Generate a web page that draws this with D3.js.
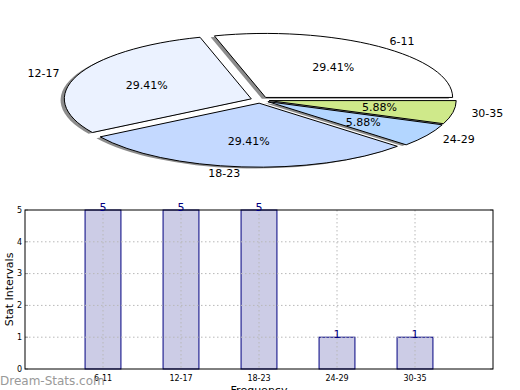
<!DOCTYPE html>
<html>
<head>
<meta charset="utf-8">
<script src="https://cdn.jsdelivr.net/npm/d3@7"></script>
<style>
  body { margin: 0; background: #fff; }
  text { font-family: "DejaVu Sans", sans-serif; }
</style>
</head>
<body>
<svg id="chart" width="520" height="390"></svg>
<script>
"use strict";

//// data
const categories = ["6-11", "12-17", "18-23", "24-29", "30-35"];
const counts = [5, 5, 5, 1, 1];
const sliceColors = ["#ffffff", "#ebf2ff", "#c4d9ff", "#b3d6ff", "#cfe98a"];
const yTicks = [0, 1, 2, 3, 4, 5];

(function () {
    const svg = d3.select("#chart");

    //// pie (squashed ellipse, matplotlib style: ccw from 3 o'clock)
    const cx = 260, cy = 100, rx = 187, ry = 64;
    const explode = 0.05;
    const total = d3.sum(counts);

    const pie = d3.pie().sort(null)
        .startAngle(Math.PI / 2)
        .endAngle(Math.PI / 2 - 2 * Math.PI);
    const arcs = pie(counts);
    const arc = d3.arc().innerRadius(0).outerRadius(1);

    function offset(d, r) {
        const m = (d.startAngle + d.endAngle) / 2;
        return [Math.sin(m) * r, -Math.cos(m) * r];
    }

    const pieG = svg.append("g");

    // shadows first
    pieG.selectAll(".shadow")
        .data(arcs)
        .enter().append("path")
            .attr("class", "shadow")
            .attr("transform", function(d) {
                const o = offset(d, explode);
                return "translate(" + (cx + o[0] * rx - 0.02 * rx) + "," + (cy + o[1] * ry + 0.02 * ry) + ") scale(" + rx + "," + ry + ")";
            })
            .attr("d", arc)
            .attr("fill", "#000")
            .attr("fill-opacity", 0.45);

    pieG.selectAll(".slice")
        .data(arcs)
        .enter().append("path")
            .attr("class", "slice")
            .attr("transform", function(d) {
                const o = offset(d, explode);
                return "translate(" + (cx + o[0] * rx) + "," + (cy + o[1] * ry) + ") scale(" + rx + "," + ry + ")";
            })
            .attr("d", arc)
            .attr("fill", function(d, i) { return sliceColors[i]; })
            .attr("stroke", "#000")
            .attr("stroke-width", 1)
            .attr("vector-effect", "non-scaling-stroke");

    // category labels at 1.1 r
    pieG.selectAll(".plabel")
        .data(arcs)
        .enter().append("text")
            .attr("class", "plabel")
            .attr("x", function(d) { return cx + offset(d, 1.1 + explode)[0] * rx; })
            .attr("y", function(d) { return cy + offset(d, 1.1 + explode)[1] * ry; })
            .attr("dy", "0.35em")
            .attr("text-anchor", function(d) { return offset(d, 1)[0] > 0 ? "start" : "end"; })
            .style("font-size", "11px")
            .text(function(d, i) { return categories[i]; });

    // percentages at 0.6 r
    pieG.selectAll(".pct")
        .data(arcs)
        .enter().append("text")
            .attr("class", "pct")
            .attr("x", function(d) { return cx + offset(d, 0.6 + explode)[0] * rx; })
            .attr("y", function(d) { return cy + offset(d, 0.6 + explode)[1] * ry; })
            .attr("dy", "0.35em")
            .attr("text-anchor", "middle")
            .style("font-size", "11px")
            .text(function(d) { return (d.value / total * 100).toFixed(2) + "%"; });

    //// bar chart
    const left = 25, right = 493, plotTop = 210, bottom = 369;

    const x = d3.scaleLinear().domain([-1, categories.length]).range([left, right]);
    const y = d3.scaleLinear().domain([0, 5]).range([bottom, plotTop]);
    const barW = (x(1) - x(0)) * 0.46;

    const barG = svg.append("g");

    barG.selectAll(".bar")
        .data(counts)
        .enter().append("rect")
            .attr("class", "bar")
            .attr("x", function(d, i) { return x(i) - barW / 2; })
            .attr("y", function(d) { return y(d); })
            .attr("width", barW)
            .attr("height", function(d) { return y(0) - y(d); })
            .attr("fill", "#cccce6")
            .attr("stroke", "#000080")
            .attr("stroke-width", 1);

    // grid
    barG.selectAll(".hgrid")
        .data(yTicks.slice(1, -1))
        .enter().append("line")
            .attr("x1", left).attr("x2", right)
            .attr("y1", function(d) { return y(d); })
            .attr("y2", function(d) { return y(d); })
            .attr("stroke", "#b8b8b8")
            .attr("stroke-dasharray", "1.5,2.5");

    barG.selectAll(".vgrid")
        .data(categories)
        .enter().append("line")
            .attr("x1", function(d, i) { return x(i); })
            .attr("x2", function(d, i) { return x(i); })
            .attr("y1", plotTop).attr("y2", bottom)
            .attr("stroke", "#b8b8b8")
            .attr("stroke-dasharray", "1.5,2.5");

    // small inner ticks
    barG.selectAll(".ytick")
        .data(yTicks)
        .enter().append("g")
        .each(function(d) {
            const g = d3.select(this);
            g.append("line").attr("x1", left).attr("x2", left + 3)
                .attr("y1", y(d)).attr("y2", y(d)).attr("stroke", "#999");
            g.append("line").attr("x1", right - 3).attr("x2", right)
                .attr("y1", y(d)).attr("y2", y(d)).attr("stroke", "#999");
        });

    // frame
    barG.append("rect")
        .attr("x", left).attr("y", plotTop)
        .attr("width", right - left).attr("height", bottom - plotTop)
        .attr("fill", "none")
        .attr("stroke", "#000")
        .attr("stroke-width", 1);

    // y tick labels
    barG.selectAll(".ylab")
        .data(yTicks)
        .enter().append("text")
            .attr("x", left - 3)
            .attr("y", function(d) { return y(d); })
            .attr("dy", "0.35em")
            .attr("text-anchor", "end")
            .style("font-size", "8px")
            .text(function(d) { return d; });

    // x tick labels
    barG.selectAll(".xlab")
        .data(categories)
        .enter().append("text")
            .attr("x", function(d, i) { return x(i); })
            .attr("y", bottom + 12)
            .attr("text-anchor", "middle")
            .style("font-size", "8px")
            .text(function(d) { return d; });

    // value labels
    barG.selectAll(".vlab")
        .data(counts)
        .enter().append("text")
            .attr("x", function(d, i) { return x(i); })
            .attr("y", function(d) { return y(d) + 1; })
            .attr("text-anchor", "middle")
            .attr("fill", "#000080")
            .style("font-size", "11px")
            .text(function(d) { return d; });

    svg.append("text")
        .attr("transform", "translate(13," + ((plotTop + bottom) / 2) + ") rotate(-90)")
        .attr("text-anchor", "middle")
        .style("font-size", "11px")
        .text("Stat Intervals");

    svg.append("text")
        .attr("x", (left + right) / 2)
        .attr("y", 394)
        .attr("text-anchor", "middle")
        .style("font-size", "11px")
        .text("Frequency");

    svg.append("text")
        .attr("x", 0)
        .attr("y", 385)
        .attr("fill", "#999")
        .style("font-size", "12px")
        .text("Dream-Stats.com");
})();
</script>
</body>
</html>
